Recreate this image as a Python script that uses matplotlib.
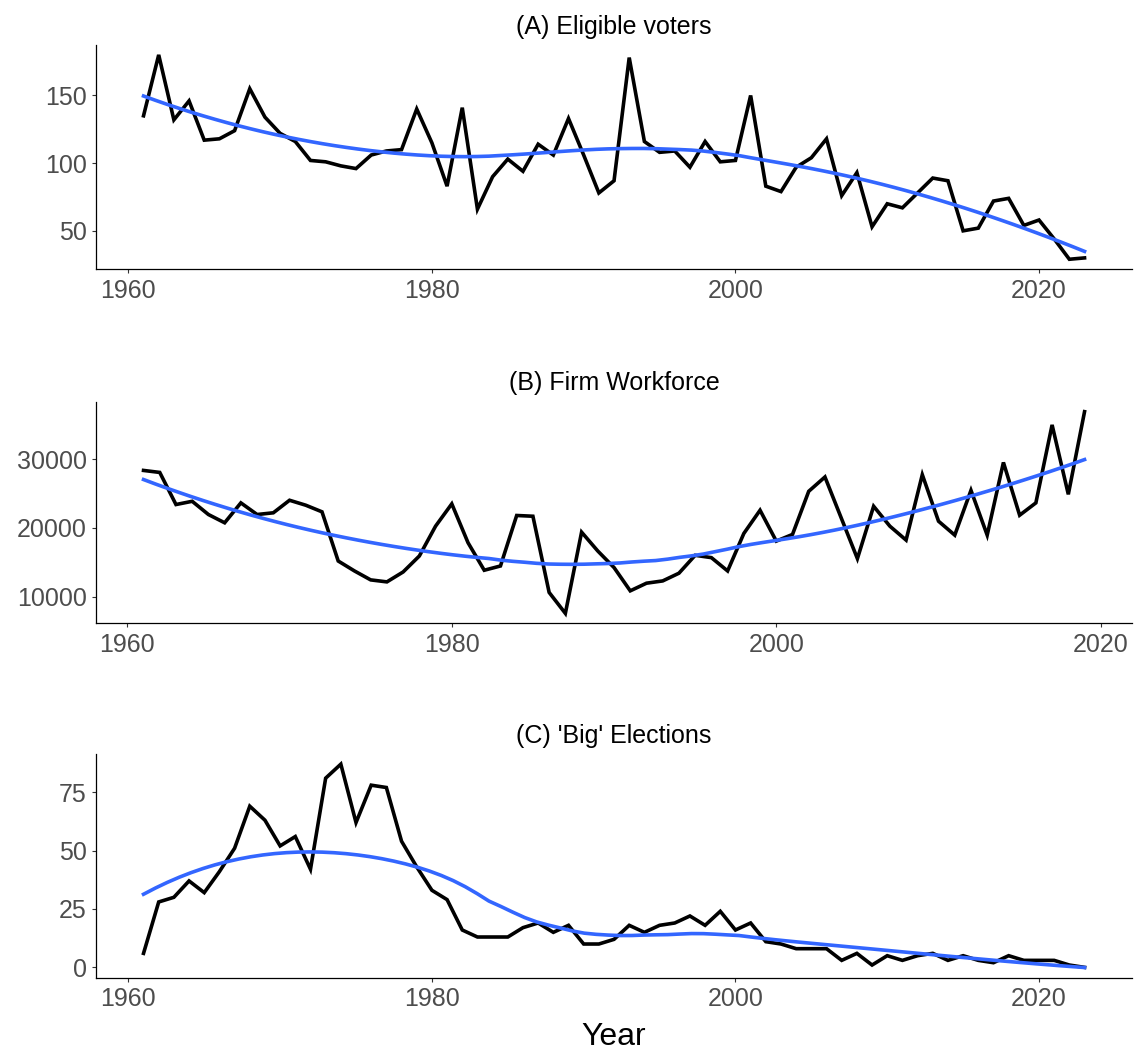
# Three time series panels with a loess trend line each
import numpy as np
import matplotlib.pyplot as plt

plt.rcParams['font.family'] = ['Liberation Sans', 'DejaVu Sans']

# Data
years_a = list(range(1961, 2024))
voters = [135, 180, 132, 146, 117, 118, 124, 155, 134, 122, 116, 102, 101, 98, 96,
          106, 109, 110, 140, 115, 83, 141, 66, 90, 103, 94, 114, 106, 133, 106,
          78, 87, 178, 116, 108, 109, 97, 116, 101, 102, 150, 83, 79, 97, 104,
          118, 76, 93, 53, 70, 67, 78, 89, 87, 50, 52, 72, 74, 54, 58, 44, 29, 30]

years_b = list(range(1961, 2020))
workforce = [28350, 28060, 23400, 23870, 21950, 20750, 23640, 21950, 22200, 24020,
             23300, 22340, 15200, 13760, 12460, 12170, 13610, 15930, 20260, 23500,
             17860, 13860, 14480, 21810, 21700, 10640, 7600, 19390, 16650, 14250,
             10870, 11980, 12310, 13430, 16030, 15690, 13760, 19200, 22570, 18090,
             19060, 25320, 27400, 21470, 15550, 23150, 20260, 18240, 27730, 20980,
             18960, 25460, 18960, 29510, 21850, 23640, 34960, 24880, 36880]

years_c = list(range(1961, 2024))
big_elections = [6, 28, 30, 37, 32, 41, 51, 69, 63, 52, 56, 42, 81, 87, 62, 78, 77,
                 54, 43, 33, 29, 16, 13, 13, 13, 17, 19, 15, 18, 10, 10, 12, 18, 15,
                 18, 19, 22, 18, 24, 16, 19, 11, 10, 8, 8, 8, 3, 6, 1, 5, 3, 5, 6,
                 3, 5, 3, 2, 5, 3, 3, 3, 1, 0]

titles = ['(A) Eligible voters', '(B) Firm Workforce', "(C) 'Big' Elections"]
yticks = [[50, 100, 150], [10000, 20000, 30000], [0, 25, 50, 75]]
xticks = [1960, 1980, 2000, 2020]


def loess(x, y, span=0.75, n_out=80):
    # local quadratic fit with tricube weights (what geom_smooth uses)
    x = np.asarray(x, float)
    y = np.asarray(y, float)
    q = int(np.floor(len(x) * span))
    xs = np.linspace(x.min(), x.max(), n_out)
    ys = []
    for x0 in xs:
        d = np.abs(x - x0)
        h = np.sort(d)[q - 1]
        w = np.clip(1 - (d / h) ** 3, 0, None) ** 3
        X = np.column_stack([np.ones_like(x), x - x0, (x - x0) ** 2])
        W = np.sqrt(w)
        beta = np.linalg.lstsq(X * W[:, None], y * W, rcond=None)[0]
        ys.append(beta[0])
    return xs, np.array(ys)


fig = plt.figure(figsize=(11.35, 10.51), dpi=100)
boxes = [[0.085, 0.7436, 0.912, 0.2139],
         [0.085, 0.4068, 0.912, 0.2111],
         [0.085, 0.0699, 0.912, 0.2127]]
series = [(years_a, voters), (years_b, workforce), (years_c, big_elections)]

for i, (xv, yv) in enumerate(series):
    ax = fig.add_axes(boxes[i])
    ax.plot(xv, yv, color='black', linewidth=2.6, solid_joinstyle='miter')
    sx, sy = loess(xv, yv)
    ax.plot(sx, sy, color='#3366FF', linewidth=2.6)

    # ggplot style expansion of 5 percent
    xr = max(xv) - min(xv)
    ax.set_xlim(min(xv) - 0.05 * xr, max(xv) + 0.05 * xr)
    yr = max(yv) - min(yv)
    ax.set_ylim(min(yv) - 0.05 * yr, max(yv) + 0.05 * yr)

    ax.set_xticks(xticks)
    ax.set_yticks(yticks[i])
    ax.spines['right'].set_visible(False)
    ax.spines['top'].set_visible(False)
    ax.spines['left'].set_linewidth(0.9)
    ax.spines['bottom'].set_linewidth(0.9)
    ax.tick_params(length=3, width=0.8, color='#333333', labelcolor='#4D4D4D',
                   labelsize=18, pad=4)
    ax.set_title(titles[i], fontsize=18, pad=8)

ax.set_xlabel('Year', fontsize=23, labelpad=8)

plt.savefig('out.png', dpi=100)
